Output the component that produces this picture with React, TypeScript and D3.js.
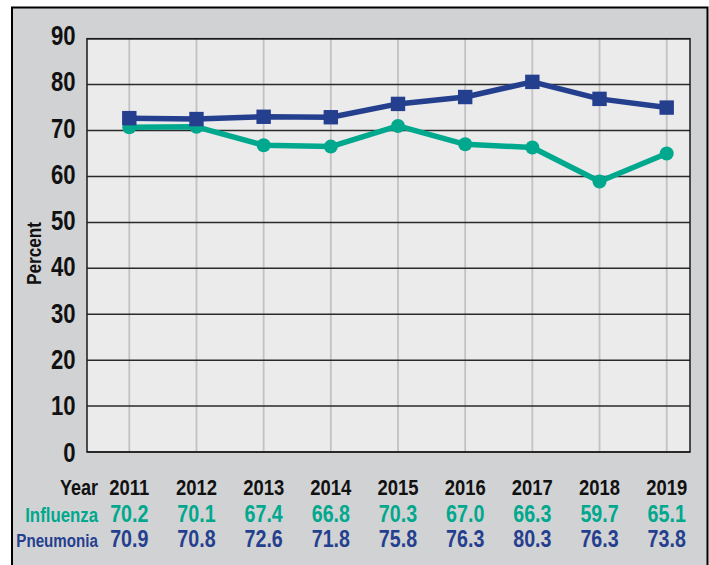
import React from "react";
import * as d3 from "d3";

const years = ["2011", "2012", "2013", "2014", "2015", "2016", "2017", "2018", "2019"];
// values as plotted in the figure
const influenzaPlot = [70.7, 70.8, 66.8, 66.5, 71.0, 67.0, 66.3, 58.9, 65.0];
const pneumoniaPlot = [72.7, 72.5, 73.0, 72.9, 75.8, 77.3, 80.6, 76.9, 75.0];
// values printed in the table below the chart
const influenzaTable = ["70.2", "70.1", "67.4", "66.8", "70.3", "67.0", "66.3", "59.7", "65.1"];
const pneumoniaTable = ["70.9", "70.8", "72.6", "71.8", "75.8", "76.3", "80.3", "76.3", "73.8"];
const yTicks = [0, 10, 20, 30, 40, 50, 60, 70, 80, 90];

const W = 709;
const H = 565;
const plot = { left: 87, right: 690, top: 38.7, bottom: 452 };
const NAVY = "#253f8f";
const TEAL = "#00a88e";
const FONT = "'Liberation Sans', Arial, sans-serif";
const NARROW = 0.82;

function NText(props: {
  x: number;
  y: number;
  anchor?: string;
  size: number;
  fill: string;
  rotate?: number;
  children: React.ReactNode;
}) {
  const { x, y, anchor = "start", size, fill, rotate = 0, children } = props;
  return (
    <text
      transform={`translate(${x},${y}) rotate(${rotate}) scale(${NARROW},1)`}
      textAnchor={anchor}
      fontSize={size}
      fontWeight="bold"
      fill={fill}
    >
      {children}
    </text>
  );
}

export default function App() {
  const x = d3.scalePoint<string>().domain(years).range([129.3, 666.7]).padding(0);
  const y = d3.scaleLinear().domain([0, 90]).range([plot.bottom, plot.top]);
  const line = d3
    .line<number>()
    .x((_, i) => x(years[i]) as number)
    .y((d) => y(d));

  return (
    <svg
      width={W}
      height={H}
      style={{ position: "absolute", left: 0, top: 0, display: "block" }}
      fontFamily={FONT}
    >
      <rect x={0} y={0} width={W} height={H} fill="#ffffff" />
      <rect x={12} y={7.5} width={695.5} height={H + 10} fill="#d1d2d4" stroke="#000" strokeWidth={2} />
      <rect
        x={plot.left}
        y={plot.top}
        width={plot.right - plot.left}
        height={plot.bottom - plot.top}
        fill="#ebebeb"
      />
      {years.map((yr) => (
        <line
          key={"v" + yr}
          x1={x(yr)}
          x2={x(yr)}
          y1={plot.top}
          y2={plot.bottom}
          stroke="#c2c2c2"
          strokeWidth={1.8}
        />
      ))}
      {yTicks.map((t) => (
        <line
          key={"h" + t}
          x1={plot.left}
          x2={plot.right}
          y1={y(t)}
          y2={y(t)}
          stroke="#2a2a2a"
          strokeWidth={1.5}
        />
      ))}
      <rect
        x={plot.left}
        y={plot.top}
        width={plot.right - plot.left}
        height={plot.bottom - plot.top}
        fill="none"
        stroke="#1a1a1a"
        strokeWidth={1.5}
      />
      {yTicks.map((t, i) => (
        <NText key={"yl" + t} x={75.5} y={y(t) + 9.5 - i * 0.35} anchor="end" size={27} fill="#111">
          {t}
        </NText>
      ))}
      <NText x={41} y={253.5} rotate={-90} anchor="middle" size={21} fill="#111">
        Percent
      </NText>

      <path d={line(influenzaPlot) || ""} fill="none" stroke={TEAL} strokeWidth={5.5} strokeLinejoin="round" />
      {influenzaPlot.map((v, i) => (
        <circle key={"ic" + i} cx={x(years[i])} cy={y(v)} r={7} fill={TEAL} />
      ))}
      <path d={line(pneumoniaPlot) || ""} fill="none" stroke={NAVY} strokeWidth={5.5} strokeLinejoin="round" />
      {pneumoniaPlot.map((v, i) => (
        <rect
          key={"ps" + i}
          x={(x(years[i]) as number) - 7.2}
          y={y(v) - 7.2}
          width={14.4}
          height={14.4}
          fill={NAVY}
        />
      ))}

      <NText x={98} y={495} anchor="end" size={22} fill="#111">
        Year
      </NText>
      <NText x={98} y={521.7} anchor="end" size={20.5} fill={TEAL}>
        Influenza
      </NText>
      <NText x={98} y={547.3} anchor="end" size={18.5} fill={NAVY}>
        Pneumonia
      </NText>
      {years.map((yr, i) => (
        <g key={"t" + yr}>
          <NText x={x(yr) as number} y={495} anchor="middle" size={22.5} fill="#111">
            {yr}
          </NText>
          <NText x={x(yr) as number} y={521.7} anchor="middle" size={24} fill={TEAL}>
            {influenzaTable[i]}
          </NText>
          <NText x={x(yr) as number} y={547.3} anchor="middle" size={24} fill={NAVY}>
            {pneumoniaTable[i]}
          </NText>
        </g>
      ))}
    </svg>
  );
}
